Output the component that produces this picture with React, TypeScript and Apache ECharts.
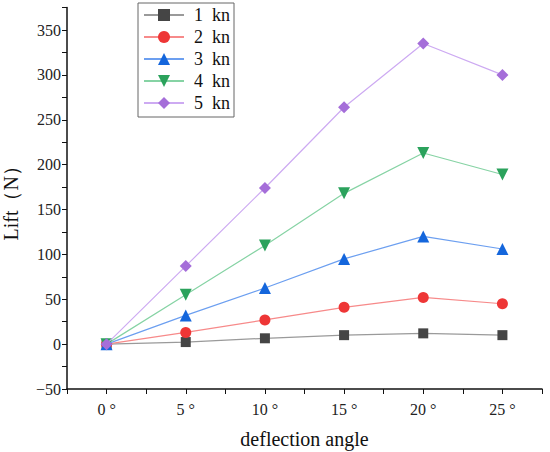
import React, { useEffect, useRef } from "react";
import * as echarts from "echarts";

const angles = [0, 5, 10, 15, 20, 25];
const seriesNames = ["1  kn", "2  kn", "3  kn", "4  kn", "5  kn"];
const lift1 = [0, 2.3, 6.5, 10, 12, 10];
const lift2 = [0, 13, 27, 41, 52, 45];
const lift3 = [0, 32, 62.5, 95, 120, 106];
const lift4 = [0, 55, 110, 168, 213, 189];
const lift5 = [0, 87, 174, 264, 335, 300];
const symbols = ["rect", "circle", "triangle", "path://M0,0 L10,0 L5,10 Z", "diamond"];
const markerColors = ["#454545", "#ee3636", "#1466dc", "#2ba25c", "#a56ed9"];
const lineColors = ["#9a9a9a", "#f78a8a", "#6c9ff0", "#86d3a4", "#cdaaf2"];
const yTickLabels = [-50, 0, 50, 100, 150, 200, 250, 300, 350];

export default function App() {
  const ref = useRef<HTMLDivElement>(null);
  useEffect(() => {
    if (!ref.current) return;
    const chart = echarts.init(ref.current, undefined, { renderer: "svg" });
    const all = [lift1, lift2, lift3, lift4, lift5];
    const font = "Liberation Serif";
    const rich = { t: { fontFamily: font, fontSize: 16, color: "#222" } };
    chart.setOption({
      animation: false,
      backgroundColor: "#fff",
      textStyle: { fontFamily: font },
      grid: { left: 67, right: 8, top: 7.6, bottom: 63, containLabel: false, outerBoundsMode: "none" },
      legend: {
        orient: "vertical",
        left: 138,
        top: 3,
        padding: [3, 4, 5, 5],
        itemGap: 4,
        itemWidth: 40,
        itemHeight: 15,
        borderColor: "#666",
        borderWidth: 1,
        textStyle: { fontFamily: font, fontSize: 18, color: "#111", padding: [0, 0, 0, 5] },
        data: seriesNames,
      },
      xAxis: {
        type: "value",
        min: -2.5,
        max: 27.5,
        interval: 2.5,
        name: "deflection angle",
        nameLocation: "middle",
        nameGap: 40,
        nameTextStyle: { fontFamily: font, fontSize: 20, color: "#111" },
        axisLine: { show: true, onZero: false, lineStyle: { color: "#111", width: 1.5 } },
        axisTick: { show: true, inside: false, length: 5, lineStyle: { color: "#111" } },
        splitLine: { show: false },
        axisLabel: {
          fontFamily: font,
          fontSize: 16,
          color: "#222",
          margin: 12,
          rich,
          formatter: (v: number) =>
            Math.abs(v % 5) < 1e-6 && v >= 0 && v <= 25 ? "{t|" + v + " °}" : "",
        },
      },
      yAxis: {
        type: "value",
        min: -50,
        max: 375,
        interval: 25,
        name: "Lift（N）",
        nameLocation: "middle",
        nameGap: 46,
        nameRotate: 90,
        nameTextStyle: { fontFamily: font, fontSize: 20, color: "#111" },
        axisLine: { show: true, onZero: false, lineStyle: { color: "#111", width: 1.5 } },
        axisTick: { show: true, inside: false, length: 5, lineStyle: { color: "#111" } },
        splitLine: { show: false },
        axisLabel: {
          fontFamily: font,
          fontSize: 16,
          color: "#222",
          margin: 6,
          rich,
          formatter: (v: number) =>
            yTickLabels.indexOf(v) >= 0 ? "{t|" + (v < 0 ? "−" + Math.abs(v) : String(v)) + "}" : "",
        },
      },
      series: all.map((vals, i) => ({
        name: seriesNames[i],
        type: "line",
        data: angles.map((a, j) => [a, vals[j]]),
        symbol: symbols[i],
        symbolSize: i === 0 ? 10 : i === 1 ? 11 : 12,
        itemStyle: { color: markerColors[i] },
        lineStyle: { color: lineColors[i], width: 1.2 },
        z: 2 + i,
      })),
    });
    return () => chart.dispose();
  }, []);
  return (
    <div
      ref={ref}
      style={{ position: "fixed", left: 0, top: 0, width: 550, height: 452, background: "#fff" }}
    />
  );
}
